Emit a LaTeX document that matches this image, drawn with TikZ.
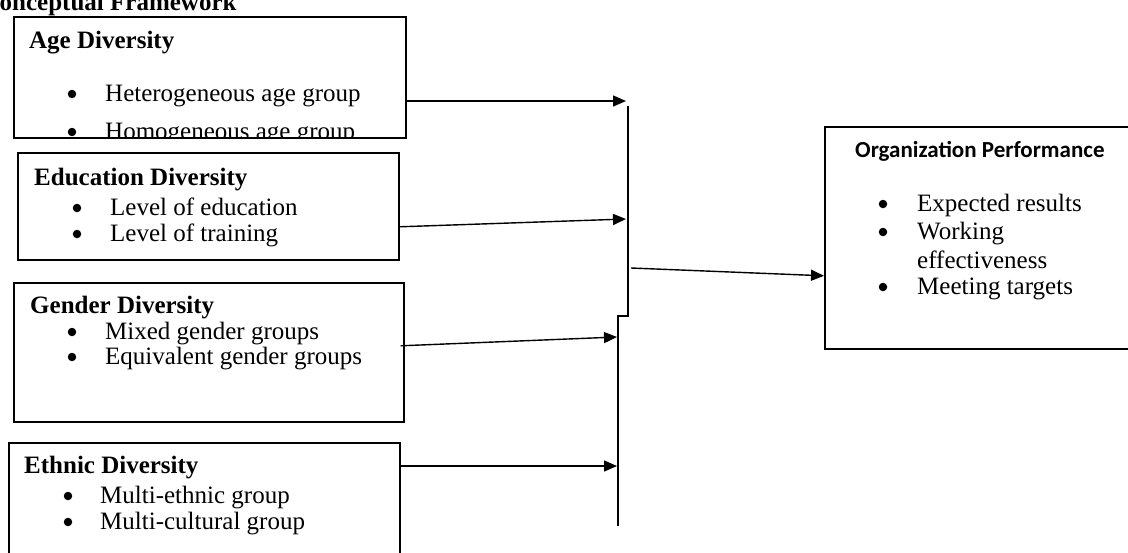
\documentclass[tikz,border=0pt]{standalone}
\usepackage{fontspec}
\setmainfont{Liberation Serif}
\newfontfamily\calibri{Carlito}
\usetikzlibrary{arrows.meta}

\begin{document}
\begin{tikzpicture}[x=1pt,y=-1pt,
  box/.style={draw,line width=1.6pt,anchor=north west,inner sep=0pt},
  arr/.style={line width=1.4pt,-{Triangle[length=13pt,width=11pt]}},
  head/.style={anchor=base west,inner sep=0pt,font=\fontsize{25}{30}\selectfont\bfseries},
  item/.style={anchor=base west,inner sep=0pt,font=\fontsize{25}{30}\selectfont},
  dot/.style={circle,fill,inner sep=0pt,minimum size=8.5pt}]
  \useasboundingbox (0,0) rectangle (1128,552);
  \node[head] (title) at (-18.5,10.5) {Conceptual Framework};

  \node[box,minimum width=392pt,minimum height=121pt] (age) at (13,16) {};
  \node[head] (agehead) at (29,48) {Age Diversity};
  \node[dot] at (72,94) {};
  \node[item] (age1) at (105,101) {Heterogeneous age group};
  \begin{scope}
    \clip (age.north west) rectangle (age.south east);
    \node[dot] at (72,132) {};
    \node[item] (age2) at (105,139) {Homogeneous age group};
  \end{scope}

  \node[box,minimum width=381pt,minimum height=107pt] (edu) at (17,152) {};
  \node[head] (eduhead) at (34,185) {Education Diversity};
  \node[dot] at (77,208) {};
  \node[item] (edu1) at (110,215) {Level of education};
  \node[dot] at (77,234) {};
  \node[item] (edu2) at (110,241) {Level of training};

  \node[box,minimum width=390pt,minimum height=139pt] (gender) at (13,282) {};
  \node[head] (genderhead) at (30,313) {Gender Diversity};
  \node[dot] at (72,332) {};
  \node[item] (gender1) at (105,339) {Mixed gender groups};
  \node[dot] at (72,357) {};
  \node[item] (gender2) at (105,364) {Equivalent gender groups};

  \node[box,minimum width=391pt,minimum height=128pt] (ethnic) at (8,442) {};
  \node[head] (ethnichead) at (24,473) {Ethnic Diversity};
  \node[dot] at (68,496) {};
  \node[item] (ethnic1) at (100,503) {Multi-ethnic group};
  \node[dot] at (68,522) {};
  \node[item] (ethnic2) at (100,529) {Multi-cultural group};

  \node[box,minimum width=311pt,minimum height=222pt] (org) at (824,126) {};
  \node[anchor=base west,inner sep=0pt,font=\calibri\fontsize{23}{27}\selectfont\bfseries] (orghead) at (855,157) {Organization Performance};
  \node[dot] at (883,204) {};
  \node[item] (org1) at (917,211) {Expected results};
  \node[dot] at (883,232) {};
  \node[item] (org2) at (917,239) {Working};
  \node[item] (org3) at (917,268) {effectiveness};
  \node[dot] at (883,287) {};
  \node[item] (org4) at (917,294) {Meeting targets};

  \coordinate (inA) at (626,101);
  \coordinate (inB) at (626,219);
  \coordinate (inC) at (617,337);
  \coordinate (inD) at (617,466);
  \coordinate (barout) at (631,268);
  \draw[line width=1.3pt] (628,106) -- (628,316) -- (618,316) -- (618,526);
  \draw[arr] (age.east |- inA) -- (inA);
  \draw[arr] ([yshift=-20.5pt]edu.east) -- (inB);
  \draw[arr] ([xshift=-4pt,yshift=6.5pt]gender.east) -- (inC);
  \draw[arr] (ethnic.east |- inD) -- (inD);
  \draw[arr] (barout) -- ([yshift=-38pt]org.west);
\end{tikzpicture}
\end{document}
